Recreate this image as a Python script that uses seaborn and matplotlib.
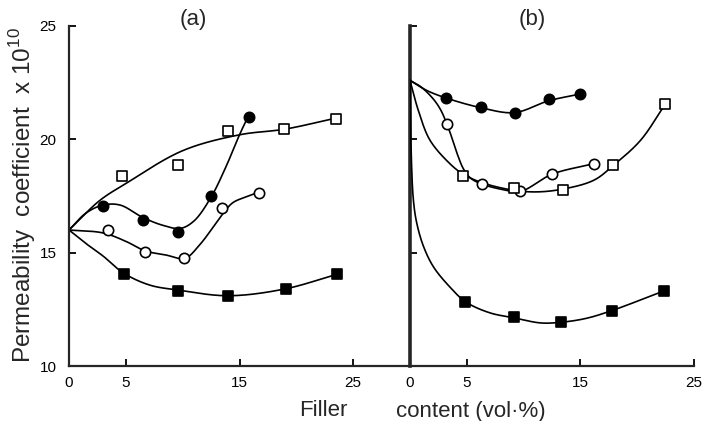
import numpy as np
import pandas as pd
import matplotlib
matplotlib.use("Agg")
import matplotlib.pyplot as plt
import seaborn as sns

# ---------------- data ----------------
# Panel (a)
a_osq_x = [4.7, 9.6, 14.0, 18.9, 23.5]
a_osq_y = [18.4, 18.85, 20.35, 20.47, 20.9]
a_fc_x = [3.0, 6.5, 9.6, 12.5, 15.8]
a_fc_y = [17.06, 16.46, 15.89, 17.5, 21.0]
a_oc_x = [3.4, 6.7, 10.1, 13.5, 16.75]
a_oc_y = [15.99, 15.03, 14.77, 16.95, 17.65]
a_fsq_x = [4.8, 9.6, 14.0, 19.1, 23.6]
a_fsq_y = [14.04, 13.33, 13.1, 13.4, 14.05]

# Panel (b)
b_fc_x = [3.2, 6.25, 9.2, 12.2, 15.0]
b_fc_y = [21.82, 21.42, 21.16, 21.76, 22.01]
b_oc_x = [3.26, 6.33, 9.7, 12.5, 16.2]
b_oc_y = [20.66, 18.02, 17.72, 18.46, 18.93]
b_osq_x = [4.68, 9.13, 13.43, 17.9, 22.45]
b_osq_y = [18.38, 17.87, 17.78, 18.85, 21.54]
b_fsq_x = [4.8, 9.13, 13.3, 17.8, 22.4]
b_fsq_y = [12.83, 12.15, 11.92, 12.44, 13.32]

# hand-drawn fitted curves (knots)
a_osq_cx = [0, 2.7, 5, 10, 15, 19, 23.6]
a_osq_cy = [16, 17.3, 18.05, 19.5, 20.2, 20.45, 20.95]
a_fc_cx = [0, 1.5, 3, 4.5, 6.5, 8.3, 9.8, 11, 12.5, 13.8, 15, 15.8]
a_fc_cy = [16, 16.75, 17.1, 17.1, 16.55, 16.2, 16.07, 16.4, 17.45, 18.78, 20.2, 21.05]
a_oc_cx = [0, 3, 5, 6.7, 8.5, 10.2, 11.5, 12.7, 13.5, 14.4, 15.5, 16.75]
a_oc_cy = [16, 15.87, 15.5, 15.08, 14.9, 14.75, 15.35, 16.14, 16.7, 17.2, 17.45, 17.68]
a_fsq_cx = [0, 1.5, 3, 4.8, 7.1, 9.6, 14, 19, 23.6]
a_fsq_cy = [16, 15.4, 14.85, 14.1, 13.57, 13.35, 13.1, 13.4, 14.05]

b_fc_cx = [0, 1.5, 3.2, 6.2, 9.2, 12.2, 15]
b_fc_cy = [22.6, 22.15, 21.82, 21.4, 21.18, 21.7, 22.0]
b_oc_cx = [0, 1, 2.05, 2.7, 3.26, 3.7, 4.2, 4.7, 5.3, 6.2, 8, 9.7, 12.5, 16.2]
b_oc_cy = [22.6, 22.3, 21.78, 21.3, 20.66, 20.05, 19.3, 18.7, 18.3, 18.05, 17.8, 17.7, 18.46, 18.93]
b_osq_cx = [0, 0.73, 1.76, 3.5, 4.6, 6.15, 8.8, 11, 13.4, 16.2, 17.9, 20.3, 22.45]
b_osq_cy = [22.6, 21.28, 19.96, 18.93, 18.49, 18.12, 17.78, 17.68, 17.8, 18.2, 18.85, 19.96, 21.54]
b_fsq_cx = [0, 0.1, 0.3, 0.6, 1.2, 2.07, 3.5, 4.9, 7, 9.2, 11.5, 13.3, 15.5, 17.8, 22.4]
b_fsq_cy = [22.6, 19.5, 17.31, 16.29, 15.26, 14.37, 13.49, 12.83, 12.35, 12.12, 11.9, 11.93, 12.1, 12.45, 13.32]

x_ticks = [0, 5, 15, 25]
y_ticks = [10, 15, 20, 25]


def smooth(xs, ys, n=40):
    """Centripetal Catmull-Rom spline through the knots."""
    P = np.column_stack([xs, ys]).astype(float)
    P = np.vstack([2 * P[0] - P[1], P, 2 * P[-1] - P[-2]])
    S = P * np.array([1.0, 2.0])
    out = []
    for i in range(1, len(P) - 2):
        p = P[i - 1:i + 3]
        s = S[i - 1:i + 3]
        t = [0.0]
        for k in range(3):
            t.append(t[-1] + max(np.linalg.norm(s[k + 1] - s[k]), 1e-9) ** 0.5)
        t0, t1, t2, t3 = t
        tt = np.linspace(t1, t2, n)[:, None]
        A1 = (t1 - tt) / (t1 - t0) * p[0] + (tt - t0) / (t1 - t0) * p[1]
        A2 = (t2 - tt) / (t2 - t1) * p[1] + (tt - t1) / (t2 - t1) * p[2]
        A3 = (t3 - tt) / (t3 - t2) * p[2] + (tt - t2) / (t3 - t2) * p[3]
        B1 = (t2 - tt) / (t2 - t0) * A1 + (tt - t0) / (t2 - t0) * A2
        B2 = (t3 - tt) / (t3 - t1) * A2 + (tt - t1) / (t3 - t1) * A3
        C = (t2 - tt) / (t2 - t1) * B1 + (tt - t1) / (t2 - t1) * B2
        out.append(C if i == 1 else C[1:])
    C = np.vstack(out)
    return C[:, 0], C[:, 1]


sns.set_style("ticks")
plt.rcParams['font.family'] = ['Liberation Sans', 'DejaVu Sans']
plt.rcParams['mathtext.fontset'] = 'custom'
plt.rcParams['mathtext.rm'] = 'Liberation Sans'

W, H = 707, 421
fig = plt.figure(figsize=(W / 100, H / 100), dpi=100)
ax_a = fig.add_axes([69 / W, 1 - 366 / H, 341 / W, 340 / H])
ax_b = fig.add_axes([410 / W, 1 - 366 / H, 284 / W, 340 / H])

styles = {
    'fc': dict(marker='o', s=55, facecolor='black', edgecolor='black'),
    'oc': dict(marker='o', s=55, facecolor='white', edgecolor='black'),
    'osq': dict(marker='s', s=42, facecolor='white', edgecolor='black'),
    'fsq': dict(marker='s', s=48, facecolor='black', edgecolor='black'),
}

series_a = [
    (a_osq_cx, a_osq_cy, a_osq_x, a_osq_y, 'osq'),
    (a_fc_cx, a_fc_cy, a_fc_x, a_fc_y, 'fc'),
    (a_oc_cx, a_oc_cy, a_oc_x, a_oc_y, 'oc'),
    (a_fsq_cx, a_fsq_cy, a_fsq_x, a_fsq_y, 'fsq'),
]
series_b = [
    (b_fc_cx, b_fc_cy, b_fc_x, b_fc_y, 'fc'),
    (b_oc_cx, b_oc_cy, b_oc_x, b_oc_y, 'oc'),
    (b_osq_cx, b_osq_cy, b_osq_x, b_osq_y, 'osq'),
    (b_fsq_cx, b_fsq_cy, b_fsq_x, b_fsq_y, 'fsq'),
]

for ax, series, xmax in [(ax_a, series_a, 30), (ax_b, series_b, 25)]:
    for cx, cy, px, py, key in series:
        sx, sy = smooth(cx, cy)
        df = pd.DataFrame({'x': sx, 'y': sy})
        sns.lineplot(data=df, x='x', y='y', sort=False, estimator=None,
                     color='black', lw=1.2, ax=ax, zorder=2)
        dfp = pd.DataFrame({'x': px, 'y': py})
        sns.scatterplot(data=dfp, x='x', y='y', ax=ax, linewidth=1.2,
                        zorder=3, clip_on=False, **styles[key])
    ax.set_xlim(0, xmax)
    ax.set_ylim(10, 25)
    ax.set_xlabel('')
    ax.set_ylabel('')
    ax.set_xticks(x_ticks)
    ax.set_yticks(y_ticks)
    ax.spines['top'].set_visible(False)
    ax.spines['right'].set_visible(False)
    ax.spines['bottom'].set_linewidth(1.6)
    ax.tick_params(axis='both', direction='in', length=5, width=1.3,
                   labelsize=11, color='black', labelcolor='black')
    ax.tick_params(axis='x', pad=7)
    ax.tick_params(axis='y', pad=9)
    ax.set_facecolor('white')

ax_a.spines['left'].set_linewidth(1.6)
ax_b.spines['left'].set_linewidth(2.6)
ax_b.set_yticklabels([])
ax_b.spines['left'].set_zorder(1)

fig.text(193 / W, 1 - 20 / H, '(a)', ha='center', va='center', fontsize=16)
fig.text(532 / W, 1 - 20 / H, '(b)', ha='center', va='center', fontsize=16)

fig.text(23 / W, 1 - 195 / H, r'Permeability  coefficient  x 10$^{10}$',
         rotation=90, ha='center', va='center', fontsize=17.5)
fig.text(323 / W, 1 - 411 / H, 'Filler', ha='center', va='center', fontsize=16)
fig.text(471 / W, 1 - 411 / H, 'content (vol\u00b7%)', ha='center', va='center',
         fontsize=16)

fig.savefig('out.png', dpi=100, facecolor='white')
